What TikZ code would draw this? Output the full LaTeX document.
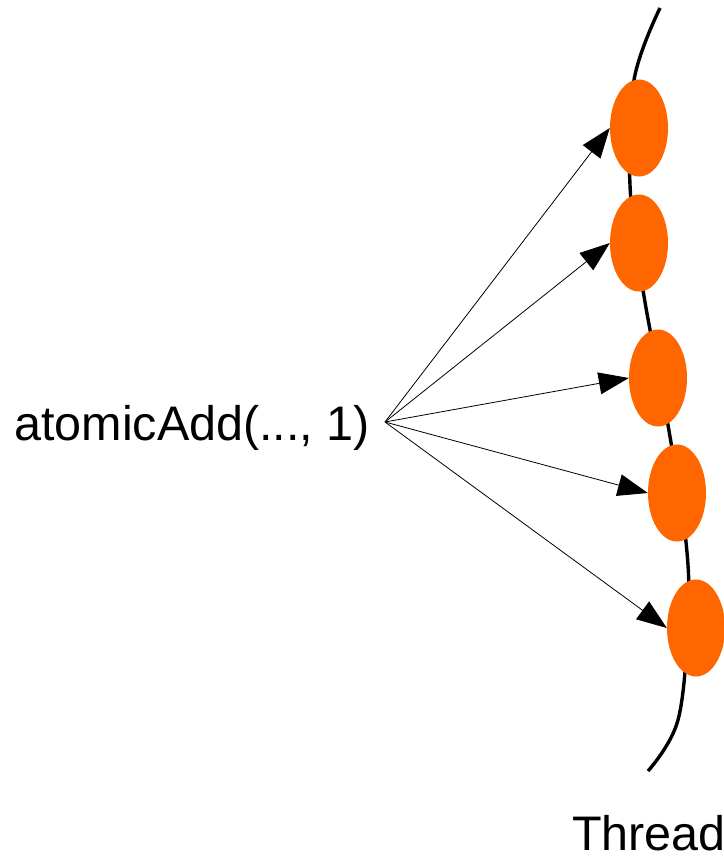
\documentclass[tikz,border=0pt]{standalone}
\usepackage{fontspec}
\setmainfont{Liberation Sans}
\usetikzlibrary{shapes.geometric,arrows.meta}
\definecolor{thrOrange}{RGB}{255,102,0}
\tikzset{
  thr/.style={ellipse, fill=thrOrange, draw=none, minimum width=58pt, minimum height=97pt, inner sep=0pt},
  arr/.style={line width=0.8pt, -{Triangle[length=30pt,width=22pt]}},
  lbl/.style={inner sep=0pt, font=\fontsize{48.5}{58}\selectfont},
  thread/.style={line width=3.4pt}
}
\begin{document}
\begin{tikzpicture}[x=1pt,y=-1pt]
\useasboundingbox (0,0) rectangle (723,856);
\draw[thread] plot[smooth, tension=0.6] coordinates {(660,8) (634,80) (630,185) (643,290) (668,425) (686,542) (688,620) (678,720) (648,771)};
\node[thr] (t1) at (639,128) {};
\node[thr] (t2) at (639,243) {};
\node[thr] (t3) at (658,378) {};
\node[thr] (t4) at (677,493) {};
\node[thr] (t5) at (696,628) {};
\node[lbl, anchor=base west] (op) at (14,440) {atomicAdd(..., 1)};
\coordinate (src) at (385,422);
\foreach \t in {t1,t2,t3,t4,t5} \draw[arr] (src) -- (\t.west);
\node[lbl, anchor=base west] (lab) at (572,850) {Thread};
\end{tikzpicture}
\end{document}
